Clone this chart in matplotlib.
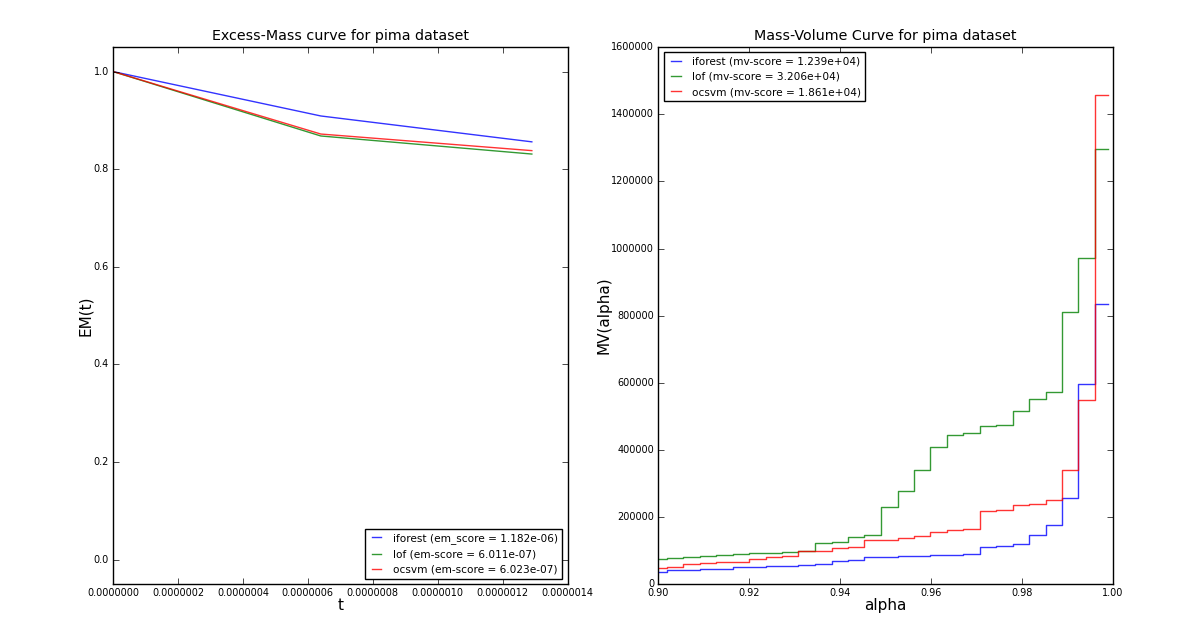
import numpy as np
import matplotlib
matplotlib.use("Agg")
import matplotlib.pyplot as plt

# Excess-Mass curve
t = [0.0, 6.4e-7, 1.29e-6]
em_iforest = [1.0, 0.909, 0.856]
em_lof = [1.0, 0.868, 0.831]
em_ocsvm = [1.0, 0.872, 0.838]
em_labels = ["iforest (em_score = 1.182e-06)",
             "lof (em-score = 6.011e-07)",
             "ocsvm (em-score = 6.023e-07)"]

# Mass-Volume curve (step edges in alpha, one level per interval)
alpha_edges = [0.9000, 0.9018, 0.9054, 0.9091, 0.9127, 0.9163, 0.9199, 0.9236,
               0.9272, 0.9308, 0.9344, 0.9381, 0.9417, 0.9453, 0.9489, 0.9526,
               0.9562, 0.9598, 0.9634, 0.9671, 0.9707, 0.9743, 0.9779, 0.9816,
               0.9852, 0.9888, 0.9924, 0.9960, 0.9990]
mv_iforest = [37000, 41000, 43000, 44000, 46000, 51000, 52000, 54000, 55000,
              57000, 60000, 68000, 73000, 81000, 82000, 83000, 84000, 87000,
              88000, 89000, 110000, 114000, 120000, 147000, 177000, 258000,
              595000, 836000]
mv_lof = [75000, 79000, 82000, 82500, 87000, 89000, 93000, 94000, 96000,
          98000, 124000, 127000, 141000, 146000, 231000, 276000, 339000,
          408000, 443000, 451000, 470000, 473000, 516000, 553000, 573000,
          810000, 972000, 1297000]
mv_ocsvm = [48000, 51000, 60000, 64000, 65000, 67000, 74000, 81000, 85000,
            98000, 100000, 107000, 110000, 130000, 132000, 138000, 142000,
            155000, 162000, 164000, 219000, 221000, 237000, 239000, 250000,
            341000, 549000, 1457000]
mv_labels = ["iforest (mv-score = 1.239e+04)",
             "lof (mv-score = 3.206e+04)",
             "ocsvm (mv-score = 1.861e+04)"]

plt.style.use("classic")
plt.rcParams["font.family"] = "DejaVu Sans"

fig = plt.figure(figsize=(11.96, 6.37), dpi=100, facecolor="white")
fig.subplots_adjust(left=0.0945, right=0.9306, bottom=0.083, top=0.926, wspace=0.2)

ax1 = fig.add_subplot(1, 2, 1)
ax1.plot(t, em_iforest, color="b", lw=1, alpha=0.8, label=em_labels[0])
ax1.plot(t, em_lof, color="g", lw=1, alpha=0.8, label=em_labels[1])
ax1.plot(t, em_ocsvm, color="r", lw=1, alpha=0.8, label=em_labels[2])
ax1.set_xlim(0, 1.4e-6)
ax1.set_ylim(-0.05, 1.05)
ax1.set_title("Excess-Mass curve for pima dataset", fontsize=10.3)
ax1.set_xlabel("t", fontsize=11, labelpad=0)
ax1.set_ylabel("EM(t)", fontsize=11, labelpad=0)
ax1.tick_params(labelsize=7, pad=3)
ax1.legend(loc="lower right", fontsize=7.6, handlelength=1.5)

ax2 = fig.add_subplot(1, 2, 2)
for vals, col, lab in [(mv_iforest, "b", mv_labels[0]),
                       (mv_lof, "g", mv_labels[1]),
                       (mv_ocsvm, "r", mv_labels[2])]:
    ax2.step(alpha_edges, vals + [vals[-1]], where="post", color=col,
             lw=1, alpha=0.8, label=lab)
ax2.set_xlim(0.9, 1.0)
ax2.set_ylim(0, 1600000)
ax2.set_title("Mass-Volume Curve for pima dataset", fontsize=10.3)
ax2.set_xlabel("alpha", fontsize=11, labelpad=0)
ax2.set_ylabel("MV(alpha)", fontsize=11, labelpad=0)
ax2.tick_params(labelsize=7, pad=3)
ax2.legend(loc="upper left", fontsize=7.6, handlelength=1.5)

fig.savefig("out.png", dpi=100, facecolor="white")
